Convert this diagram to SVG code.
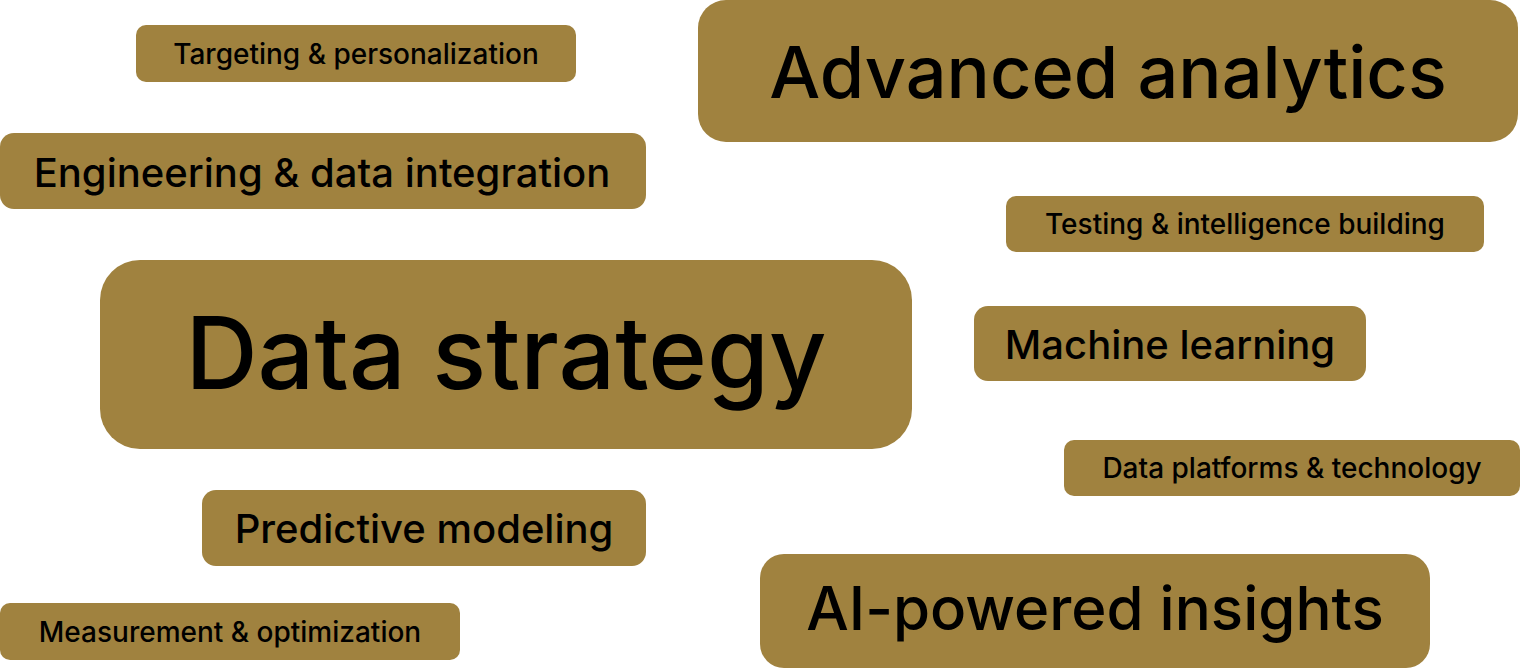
<svg xmlns="http://www.w3.org/2000/svg" width="1520" height="668" viewBox="0 0 1520 668">
<style>
.b{fill:#A0823F}
text{font-family:Inter,"Noto Sans",sans-serif;font-weight:500;fill:#000;text-anchor:middle;dominant-baseline:central}
</style>
<rect width="1520" height="668" fill="#fff"/>
<g id="n1"><rect class="b" x="136" y="25" width="440" height="57" rx="10"/><text x="356" y="54" font-size="28">Targeting &amp; personalization</text></g>
<g id="n2"><rect class="b" x="698" y="0" width="820" height="142" rx="28"/><text x="1108" y="71" font-size="72">Advanced analytics</text></g>
<g id="n3"><rect class="b" x="0" y="133" width="646" height="76" rx="14"/><text x="322" y="172" font-size="40">Engineering &amp; data integration</text></g>
<g id="n4"><rect class="b" x="1006" y="196" width="478" height="56" rx="10"/><text x="1245" y="224" font-size="28">Testing &amp; intelligence building</text></g>
<g id="n5"><rect class="b" x="100" y="260" width="812" height="189" rx="40"/><text x="506" y="352" font-size="100">Data strategy</text></g>
<g id="n6"><rect class="b" x="974" y="306" width="392" height="75" rx="14"/><text x="1170" y="344" font-size="40">Machine learning</text></g>
<g id="n7"><rect class="b" x="1064" y="440" width="456" height="56" rx="10"/><text x="1292" y="468" font-size="28">Data platforms &amp; technology</text></g>
<g id="n8"><rect class="b" x="202" y="490" width="444" height="76" rx="14"/><text x="424" y="528" font-size="40">Predictive modeling</text></g>
<g id="n9"><rect class="b" x="0" y="603" width="460" height="57" rx="10"/><text x="230" y="632" font-size="28">Measurement &amp; optimization</text></g>
<g id="n10"><rect class="b" x="760" y="554" width="670" height="114" rx="24"/><text x="1095" y="608" font-size="60">AI-powered insights</text></g>
<g id="connectors"/>
</svg>
